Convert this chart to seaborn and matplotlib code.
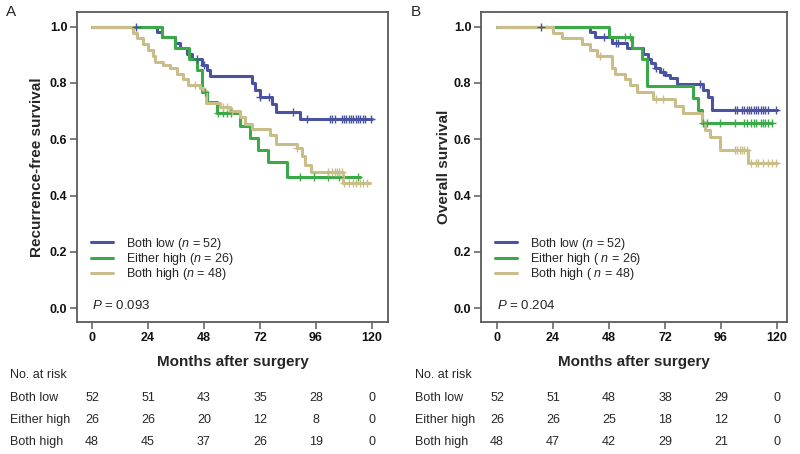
import numpy as np
import pandas as pd
import seaborn as sns
import matplotlib.pyplot as plt
import matplotlib.transforms as mtransforms


# ============================
# Kaplan-Meier steps
# ============================

groups = ["Both low", "Either high", "Both high"]
colors = ["#4a52a2", "#3aaa48", "#c9bd8a"]

# Panel A: recurrence-free survival
rfs_low_t = [0, 27.7, 30, 35.6, 37.7, 40.6, 42.7, 47, 49.2, 50.6, 68.4, 70, 72, 77, 79, 89, 120]
rfs_low_s = [1.0, 0.981, 0.962, 0.942, 0.923, 0.904, 0.885, 0.865, 0.846, 0.824, 0.80, 0.775, 0.751, 0.727, 0.698, 0.671, 0.671]
rfs_low_c = [19, 45, 48, 72, 76, 86, 92, 102, 103, 104, 107, 108, 109, 110, 111, 112, 113, 114, 115, 116, 117, 119.5]

rfs_either_t = [0, 29.9, 35.6, 41.6, 44.9, 47, 49.2, 53.4, 63.4, 67.7, 71.3, 75.6, 83.4, 115]
rfs_either_s = [1.0, 0.962, 0.923, 0.885, 0.846, 0.769, 0.731, 0.692, 0.648, 0.604, 0.562, 0.52, 0.467, 0.467]
rfs_either_c = [48.4, 54, 56, 58, 59.5, 89, 95, 101, 106, 114]

rfs_high_t = [0, 17.7, 19.5, 22, 24, 26, 27, 30.6, 33.4, 36.3, 39, 41.3, 46.3, 47.7, 49, 55,
              59, 63.4, 65.6, 68.4, 76.3, 79, 87.7, 89.9, 91.3, 94, 107.7, 119]
rfs_high_s = [1.0, 0.979, 0.958, 0.938, 0.917, 0.896, 0.875, 0.865, 0.854, 0.833, 0.813, 0.792, 0.781, 0.771, 0.729, 0.715,
              0.70, 0.68, 0.655, 0.636, 0.615, 0.585, 0.568, 0.54, 0.51, 0.485, 0.446, 0.446]
rfs_high_c = [44, 56, 58, 60, 87.7, 101, 103, 104, 105, 106, 107, 108, 110, 112, 113, 115, 116, 118]

# Panel B: overall survival
os_low_t = [0, 39.9, 42, 49.2, 55.6, 62.7, 64.8, 66, 67.7, 69.9, 72, 74.1, 77, 88.3, 90.4, 92, 120]
os_low_s = [1.0, 0.981, 0.962, 0.942, 0.923, 0.904, 0.885, 0.871, 0.853, 0.84, 0.828, 0.817, 0.796, 0.775, 0.75, 0.704, 0.704]
os_low_c = [19, 46, 51, 52, 68, 71, 87, 102, 103, 105, 106, 107, 108, 109, 110, 111, 112, 113, 114, 115, 116, 119.5]

os_either_t = [0, 48, 57.7, 62.3, 64.5, 84.1, 86.3, 87.9, 118]
os_either_s = [1.0, 0.962, 0.923, 0.885, 0.79, 0.745, 0.704, 0.659, 0.659]
os_either_c = [55, 57, 88.5, 90, 95.6, 102, 106, 107, 109, 110, 111, 113, 114, 115, 116, 118]

os_high_t = [0, 24, 27.7, 36.3, 39.9, 42.7, 49.2, 50.6, 54.9, 57, 59.9, 67, 76.3, 79.8,
             87.7, 89.1, 91.3, 95.6, 107.6, 120]
os_high_s = [1.0, 0.979, 0.958, 0.938, 0.917, 0.896, 0.854, 0.833, 0.813, 0.792, 0.767, 0.742, 0.718, 0.694,
             0.662, 0.633, 0.608, 0.562, 0.517, 0.517]
os_high_c = [44.3, 68, 71, 102, 103, 104, 105, 106, 107, 109, 111, 112, 114, 116, 118, 119.5]

# Numbers at risk
risk_months = [0, 24, 48, 72, 96, 120]
rfs_risk_low = [52, 51, 43, 35, 28, 0]
rfs_risk_either = [26, 26, 20, 12, 8, 0]
rfs_risk_high = [48, 45, 37, 26, 19, 0]
os_risk_low = [52, 51, 48, 38, 29, 0]
os_risk_either = [26, 26, 25, 18, 12, 0]
os_risk_high = [48, 47, 42, 29, 21, 0]

rfs_labels = ["Both low ($n$ = 52)", "Either high ($n$ = 26)", "Both high ($n$ = 48)"]
os_labels = ["Both low ($n$ = 52)", "Either high ( $n$ = 26)", "Both high ( $n$ = 48)"]


# ============================
# Style
# ============================

sns.set_theme(style="ticks")
plt.rcParams["font.family"] = ["Liberation Sans", "DejaVu Sans"]
plt.rcParams["mathtext.fontset"] = "custom"
plt.rcParams["mathtext.rm"] = "Liberation Sans"
plt.rcParams["mathtext.it"] = "Liberation Sans:italic"
plt.rcParams["mathtext.bf"] = "Liberation Sans:bold"

frame = "#5a5a5a"

fig = plt.figure(figsize=(8, 4.54), dpi=100)
ax_a = fig.add_axes([0.09625, 0.2907, 0.38875, 0.6828])
ax_b = fig.add_axes([0.60125, 0.2907, 0.3825, 0.6828])


def draw_panel(ax, curves, labels, ylabel, ylabelpad, pval, xlim, risk, risk_x, letter, letter_x):
    rows = []
    for lab, (t, s, c) in zip(labels, curves):
        rows.append(pd.DataFrame({"time": t, "surv": s, "group": lab}))
    df = pd.concat(rows, ignore_index=True)

    sns.lineplot(
        data=df, x="time", y="surv", hue="group",
        palette=dict(zip(labels, colors)),
        estimator=None, sort=False, drawstyle="steps-post",
        linewidth=2.2, ax=ax
    )

    # censoring marks
    for col, (t, s, c) in zip(colors, curves):
        idx = np.searchsorted(t, c, side="right") - 1
        ax.plot(c, np.asarray(s)[idx], linestyle="none", marker="+",
                markersize=6, markeredgewidth=1.0, color=col)

    ax.set_xlim(*xlim)
    ax.set_ylim(-0.049, 1.052)
    ax.set_xticks(risk_months)
    ax.set_yticks([0.0, 0.2, 0.4, 0.6, 0.8, 1.0])
    ax.set_yticklabels(["0.0", "0.2", "0.4", "0.6", "0.8", "1.0"])
    for lbl in ax.get_xticklabels() + ax.get_yticklabels():
        lbl.set_fontweight("bold")
        lbl.set_fontsize(9)
    ax.tick_params(direction="out", length=5, width=1.1, color=frame, pad=2,
                   labelcolor="#111111")
    for sp in ax.spines.values():
        sp.set_visible(True)
        sp.set_color(frame)
        sp.set_linewidth(1.3)

    ax.set_xlabel("Months after surgery", fontsize=11, fontweight="bold", labelpad=8)
    ax.set_ylabel(ylabel, fontsize=11, fontweight="bold", labelpad=ylabelpad)

    sns.move_legend(
        ax, "lower left", bbox_to_anchor=(0.045, 0.128), title=None,
        frameon=False, fontsize=9, handlelength=1.8, handletextpad=1.0,
        labelspacing=-0.05, borderaxespad=0, borderpad=0
    )
    for line in ax.get_legend().get_lines():
        line.set_linewidth(2.2)

    ax.text(0, 0.01, "$P$ = " + pval, fontsize=9.5, ha="left", va="center")

    # numbers at risk table
    tr = mtransforms.blended_transform_factory(ax.transData, fig.transFigure)
    fig.text(risk_x, 1 - 375 / 454, "No. at risk", fontsize=9, va="center")
    for k, (g, vals) in enumerate(zip(groups, risk)):
        y = 1 - (398 + 22 * k) / 454
        fig.text(risk_x, y, g, fontsize=9, va="center")
        for m, v in zip(risk_months, vals):
            ax.text(m, y, str(v), transform=tr, fontsize=9, ha="center", va="center")

    fig.text(letter_x, 1 - 12 / 454, letter, fontsize=11, va="center")


draw_panel(
    ax_a,
    [(rfs_low_t, rfs_low_s, rfs_low_c),
     (rfs_either_t, rfs_either_s, rfs_either_c),
     (rfs_high_t, rfs_high_s, rfs_high_c)],
    rfs_labels, "Recurrence-free survival", 4, "0.093", (-6.43, 126.9),
    [rfs_risk_low, rfs_risk_either, rfs_risk_high], 10 / 800, "A", 6 / 800
)

draw_panel(
    ax_b,
    [(os_low_t, os_low_s, os_low_c),
     (os_either_t, os_either_s, os_either_c),
     (os_high_t, os_high_s, os_high_c)],
    os_labels, "Overall survival", 2, "0.204", (-6.86, 124.3),
    [os_risk_low, os_risk_either, os_risk_high], 415 / 800, "B", 411 / 800
)

fig.savefig("out.png", dpi=100)
